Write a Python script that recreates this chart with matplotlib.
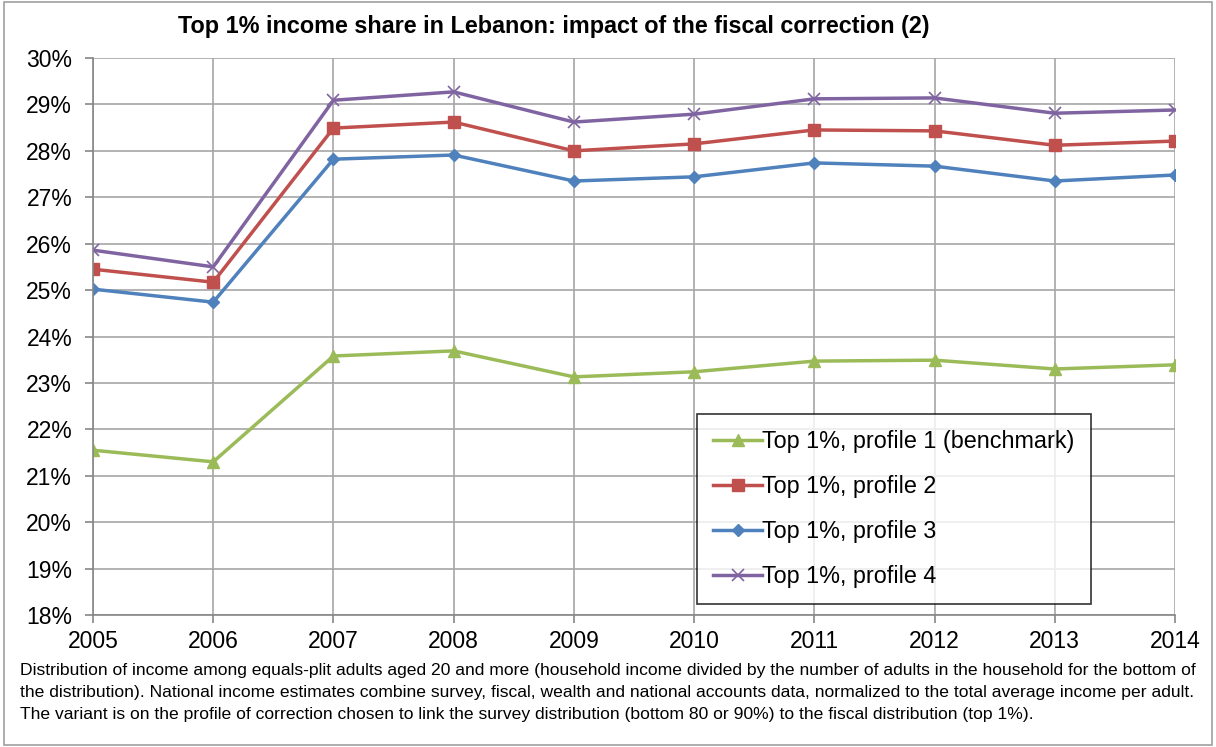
import matplotlib.pyplot as plt
from matplotlib.patches import Rectangle

# Datos (participacion del top 1%, en %)
years = [2005, 2006, 2007, 2008, 2009, 2010, 2011, 2012, 2013, 2014]
profile1 = [21.55, 21.30, 23.58, 23.69, 23.13, 23.24, 23.47, 23.49, 23.30, 23.39]
profile2 = [25.45, 25.17, 28.49, 28.62, 28.00, 28.15, 28.45, 28.43, 28.12, 28.21]
profile3 = [25.02, 24.74, 27.82, 27.91, 27.35, 27.44, 27.74, 27.67, 27.35, 27.48]
profile4 = [25.86, 25.50, 29.09, 29.27, 28.62, 28.79, 29.12, 29.14, 28.81, 28.88]
y_ticks = list(range(18, 31))

plt.rcParams['font.family'] = ['Liberation Sans', 'DejaVu Sans']

fig = plt.figure(figsize=(12.16, 7.47), dpi=100)
ax = fig.add_axes([93 / 1216, 1 - 615 / 747, (1175 - 93) / 1216, (615 - 58) / 747])

# borde exterior de la figura
fig.patches.append(Rectangle((4 / 1216, 2 / 747), 1 - 8 / 1216, 1 - 4 / 747,
                             transform=fig.transFigure, fill=False,
                             edgecolor='#a0a0a0', linewidth=1.2))

ax.plot(years, profile1, color='#9bbb59', marker='^', markersize=9, linewidth=2.5,
        label='Top 1%, profile 1 (benchmark)')
ax.plot(years, profile2, color='#c0504d', marker='s', markersize=8, linewidth=2.5,
        label='Top 1%, profile 2')
ax.plot(years, profile3, color='#4f81bd', marker='D', markersize=6, linewidth=2.5,
        label='Top 1%, profile 3')
ax.plot(years, profile4, color='#8064a2', marker='x', markersize=8, markeredgewidth=1.2,
        linewidth=2.5, label='Top 1%, profile 4')

ax.set_xlim(2005, 2014)
ax.set_ylim(18, 30)
ax.set_xticks(years)
ax.set_yticks(y_ticks)
ax.set_yticklabels([f'{t}%' for t in y_ticks])
ax.grid(True, color='#a6a6a6', linewidth=1.2)
ax.set_axisbelow(True)
for s in ['top', 'right']:
    ax.spines[s].set_visible(False)
for s in ['left', 'bottom']:
    ax.spines[s].set_color('#868686')
    ax.spines[s].set_linewidth(1.2)
ax.tick_params(axis='both', colors='#868686', labelcolor='black', labelsize=16.5,
               length=6, width=1.2)
ax.tick_params(axis='x', pad=5)
ax.tick_params(axis='y', pad=9)

leg = ax.legend(loc='upper left', bbox_to_anchor=((697 - 93) / (1175 - 93), (615 - 414) / (615 - 58)),
                fontsize=16.8, frameon=True, fancybox=False, edgecolor='black',
                borderpad=0.7, labelspacing=0.94, handlelength=2.1, handletextpad=0.0,
                borderaxespad=0)
leg.get_frame().set_linewidth(1.2)

fig.text(554 / 1216, 1 - 27 / 747,
         'Top 1% income share in Lebanon: impact of the fiscal correction (2)',
         ha='center', va='center', fontsize=16.8, fontweight='bold')

footnote = ('Distribution of income among equals-plit adults aged 20 and more (household income divided by the number of adults in the household for the bottom of\n'
            'the distribution). National income estimates combine survey, fiscal, wealth and national accounts data, normalized to the total average income per adult.\n'
            'The variant is on the profile of correction chosen to link the survey distribution (bottom 80 or 90%) to the fiscal distribution (top 1%).')
fig.text(20 / 1216, 1 - 663 / 747, footnote, ha='left', va='top', fontsize=12.6,
         linespacing=1.6)

fig.savefig('out.png', dpi=100)
